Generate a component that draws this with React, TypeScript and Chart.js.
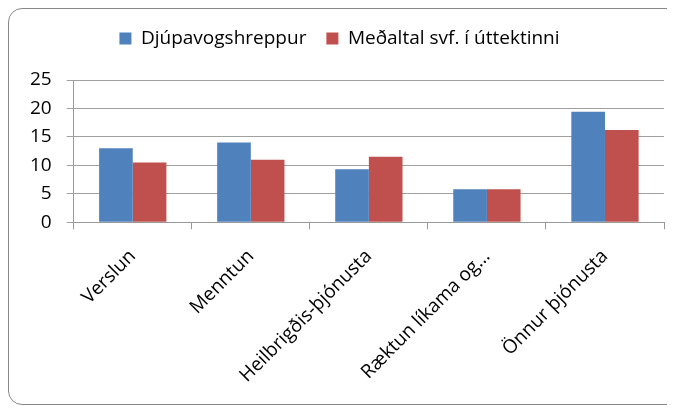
import React, { useEffect, useRef } from "react";
import { Chart, registerables } from "chart.js";

Chart.register(...registerables);

const categories = ["Verslun", "Menntun", "Heilbrigðis-þjónusta", "Ræktun líkama og...", "Önnur þjónusta"];
const seriesNames = ["Djúpavogshreppur", "Meðaltal svf. í úttektinni"];
const djupavogur = [13.0, 14.0, 9.3, 5.8, 19.4];
const medaltal = [10.5, 11.0, 11.5, 5.8, 16.2];
const yTicks = [0, 5, 10, 15, 20, 25];

const FONT = "'Open Sans', sans-serif";

const legendGap = {
  id: "legendGap",
  beforeInit(chart: any) {
    const orig = chart.legend.fit;
    chart.legend.fit = function () {
      orig.bind(chart.legend)();
      this.height += 22;
    };
  },
};

export default function App() {
  const ref = useRef<HTMLCanvasElement | null>(null);
  useEffect(() => {
    if (!ref.current) return;
    const chart = new Chart(ref.current, {
      type: "bar",
      data: {
        labels: categories,
        datasets: [
          { label: seriesNames[0], data: djupavogur, backgroundColor: "#4F81BD", categoryPercentage: 0.57, barPercentage: 1.0 },
          { label: seriesNames[1], data: medaltal, backgroundColor: "#C0504D", categoryPercentage: 0.57, barPercentage: 1.0 },
        ],
      },
      plugins: [legendGap],
      options: {
        animation: false,
        responsive: false,
        maintainAspectRatio: false,
        layout: { padding: { left: 6, right: 18, top: 0, bottom: 1 } },
        plugins: {
          legend: {
            position: "top",
            labels: { font: { family: FONT, size: 19 }, color: "#000", boxWidth: 12, boxHeight: 12, padding: 20 },
          },
          tooltip: { enabled: false },
        },
        scales: {
          x: {
            grid: { display: true, drawOnChartArea: false, drawTicks: true, tickLength: 7, color: "#999" },
            border: { color: "#999" },
            ticks: { font: { family: FONT, size: 19 }, color: "#000", maxRotation: 45, minRotation: 45, autoSkip: false, padding: 16 },
          },
          y: {
            min: 0,
            max: 25,
            afterBuildTicks: (axis: any) => { axis.ticks = yTicks.map((v) => ({ value: v })); },
            grid: { color: "#a0a0a0", tickLength: 7, lineWidth: 1 },
            border: { color: "#999" },
            ticks: { font: { family: FONT, size: 19 }, color: "#000", padding: 15, autoSkip: false },
          },
        },
      },
    });
    return () => chart.destroy();
  }, []);
  return (
    <div style={{ width: 675, height: 397, border: "1px solid #888", borderRadius: 14, boxSizing: "border-box", overflow: "hidden" }}>
      <canvas ref={ref} width={673} height={395} style={{ display: "block" }} />
    </div>
  );
}
